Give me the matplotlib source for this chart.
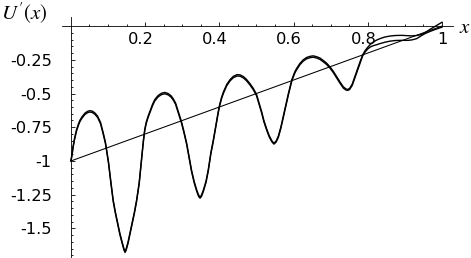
import matplotlib
matplotlib.use("Agg")
import matplotlib.pyplot as plt
import matplotlib.transforms as mtransforms

# straight reference line
line_x = [0.0, 1.0]
line_y = [-1.0, 0.0]

# first oscillating curve
x_a = [0.000, 0.003, 0.006, 0.010, 0.015, 0.020, 0.024, 0.030, 0.038, 0.045,
       0.051, 0.058, 0.065, 0.072, 0.080, 0.087, 0.093, 0.101, 0.108, 0.114,
       0.120, 0.126, 0.132, 0.138, 0.143, 0.146, 0.149, 0.154, 0.159, 0.165,
       0.171, 0.177, 0.184, 0.190, 0.195, 0.199, 0.203, 0.208, 0.213, 0.220,
       0.226, 0.235, 0.244, 0.253, 0.262, 0.270, 0.276, 0.282, 0.289, 0.298,
       0.305, 0.312, 0.318, 0.325, 0.332, 0.339, 0.344, 0.348, 0.352, 0.357,
       0.364, 0.370, 0.377, 0.384, 0.389, 0.393, 0.397, 0.401, 0.406, 0.411,
       0.420, 0.429, 0.438, 0.448, 0.456, 0.465, 0.473, 0.482, 0.491, 0.500,
       0.507, 0.514, 0.520, 0.527, 0.534, 0.541, 0.547, 0.553, 0.559, 0.566,
       0.572, 0.579, 0.586, 0.591, 0.595, 0.601, 0.604, 0.608, 0.617, 0.626,
       0.635, 0.645, 0.653, 0.662, 0.671, 0.680, 0.689, 0.698, 0.707, 0.716,
       0.725, 0.734, 0.741, 0.746, 0.751, 0.758, 0.765, 0.772, 0.779,
       0.786, 0.792, 0.799, 0.806, 0.814, 0.823, 0.833, 0.845, 0.860, 0.875,
       0.891, 0.905, 0.918, 0.932, 0.945, 0.957, 0.968, 0.980, 0.990, 1.000]
y_a = [-1.000, -0.950, -0.890, -0.830, -0.770, -0.728, -0.700, -0.672, -0.645, -0.632,
       -0.627, -0.631, -0.645, -0.668, -0.715, -0.790, -0.860, -1.000, -1.160, -1.290,
       -1.380, -1.460, -1.536, -1.600, -1.650, -1.671, -1.650, -1.600, -1.536, -1.460,
       -1.380, -1.290, -1.160, -0.990, -0.855, -0.765, -0.712, -0.668, -0.632, -0.580,
       -0.545, -0.515, -0.498, -0.492, -0.500, -0.517, -0.540, -0.570, -0.630, -0.709,
       -0.785, -0.869, -0.960, -1.067, -1.150, -1.215, -1.252, -1.269, -1.252, -1.215,
       -1.150, -1.067, -0.940, -0.840, -0.762, -0.697, -0.634, -0.580, -0.528, -0.488,
       -0.432, -0.396, -0.372, -0.360, -0.362, -0.375, -0.395, -0.425, -0.460, -0.505,
       -0.570, -0.635, -0.700, -0.758, -0.810, -0.848, -0.869, -0.852, -0.815, -0.745,
       -0.672, -0.585, -0.500, -0.445, -0.400, -0.355, -0.335, -0.315, -0.277, -0.250,
       -0.233, -0.224, -0.221, -0.227, -0.237, -0.255, -0.275, -0.302, -0.335, -0.375,
       -0.414, -0.450, -0.466, -0.470, -0.462, -0.430, -0.375, -0.320, -0.265,
       -0.215, -0.185, -0.160, -0.138, -0.120, -0.105, -0.093, -0.082, -0.074, -0.070,
       -0.069, -0.071, -0.073, -0.070, -0.062, -0.044, -0.024, -0.004, 0.012, 0.028]

# second curve: almost on top of the first one, parts only near x = 1
x_b = x_a[:119] + [0.786, 0.792, 0.799, 0.806, 0.814, 0.823, 0.833, 0.846, 0.860, 0.875,
                   0.891, 0.909, 0.920, 0.932, 0.945, 0.955, 0.965, 0.975, 0.987, 1.000]
y_b = [-1.000, -0.960, -0.900, -0.840, -0.780, -0.738, -0.710, -0.682, -0.655, -0.642,
       -0.637, -0.641, -0.655, -0.678, -0.725, -0.800, -0.870, -1.010, -1.170, -1.300,
       -1.390, -1.470, -1.546, -1.610, -1.660, -1.678, -1.660, -1.610, -1.546, -1.470,
       -1.390, -1.300, -1.170, -1.000, -0.865, -0.775, -0.722, -0.678, -0.642, -0.590,
       -0.555, -0.525, -0.508, -0.502, -0.510, -0.527, -0.550, -0.580, -0.640, -0.719,
       -0.795, -0.879, -0.970, -1.077, -1.160, -1.225, -1.262, -1.276, -1.262, -1.225,
       -1.160, -1.077, -0.950, -0.850, -0.772, -0.707, -0.644, -0.590, -0.538, -0.498,
       -0.442, -0.406, -0.382, -0.370, -0.372, -0.385, -0.405, -0.435, -0.470, -0.515,
       -0.580, -0.645, -0.710, -0.768, -0.820, -0.856, -0.875, -0.860, -0.825, -0.755,
       -0.682, -0.595, -0.510, -0.455, -0.410, -0.365, -0.345, -0.325, -0.287, -0.260,
       -0.243, -0.234, -0.231, -0.237, -0.247, -0.265, -0.285, -0.312, -0.345, -0.385,
       -0.424, -0.460, -0.474, -0.477, -0.470, -0.440, -0.385, -0.330, -0.275,
       -0.222, -0.195, -0.172, -0.156, -0.146, -0.139, -0.130, -0.120, -0.112, -0.107,
       -0.106, -0.106, -0.102, -0.093, -0.070, -0.055, -0.043, -0.032, -0.020, -0.008]

x_ticks = [0.2, 0.4, 0.6, 0.8, 1.0]
x_labels = ["0.2", "0.4", "0.6", "0.8", "1"]
y_ticks = [-1.5, -1.25, -1.0, -0.75, -0.5, -0.25]
y_labels = ["-1.5", "-1.25", "-1", "-0.75", "-0.5", "-0.25"]

fig = plt.figure(figsize=(4.71, 2.58), dpi=100)
ax = fig.add_axes([0, 0, 1, 1])
ax.set_xlim(-0.191, 1.078)
ax.set_ylim(-1.719, 0.193)

ax.plot(line_x, line_y, color="black", lw=0.75)
ax.plot(x_a, y_a, color="black", lw=1.0)
ax.plot(x_b, y_b, color="black", lw=1.0)

# mathematica-like axes crossing at the origin
for s in ["top", "right"]:
    ax.spines[s].set_visible(False)
ax.spines["left"].set_position(("data", 0))
ax.spines["bottom"].set_position(("data", 0))
ax.spines["bottom"].set_bounds(-0.024, 1.03)
ax.spines["left"].set_bounds(-1.72, 0.067)
for s in ["left", "bottom"]:
    ax.spines[s].set_linewidth(0.6)

ax.set_xticks(x_ticks)
ax.set_xticklabels(x_labels)
ax.set_yticks(y_ticks)
ax.set_yticklabels(y_labels)
ax.set_xticks([i * 0.05 for i in range(1, 21) if i % 4], minor=True)
ax.set_yticks([-i * 0.05 for i in range(1, 35) if i % 5], minor=True)
ax.tick_params(which="both", direction="in", width=0.6, color="black")
ax.tick_params(which="major", length=3)
ax.tick_params(which="minor", length=1.5)
ax.tick_params(axis="x", pad=4, labelsize=11.7)
ax.tick_params(axis="y", pad=13.7, labelsize=11.7)

# the decimal labels sit a bit left of their ticks in the original
shift = mtransforms.ScaledTranslation(-0.045, 0, fig.dpi_scale_trans)
for lab in ax.get_xticklabels()[:-1]:
    lab.set_transform(lab.get_transform() + shift)

fig.text(1 / 471, 1 - 13 / 258, r"$U'(x)$", ha="left", va="center",
         fontsize=15, math_fontfamily="stix")
fig.text(465 / 471, 1 - 27 / 258, r"$x$", ha="center", va="center",
         fontsize=15, math_fontfamily="stix")

fig.savefig("out.png", dpi=100)
